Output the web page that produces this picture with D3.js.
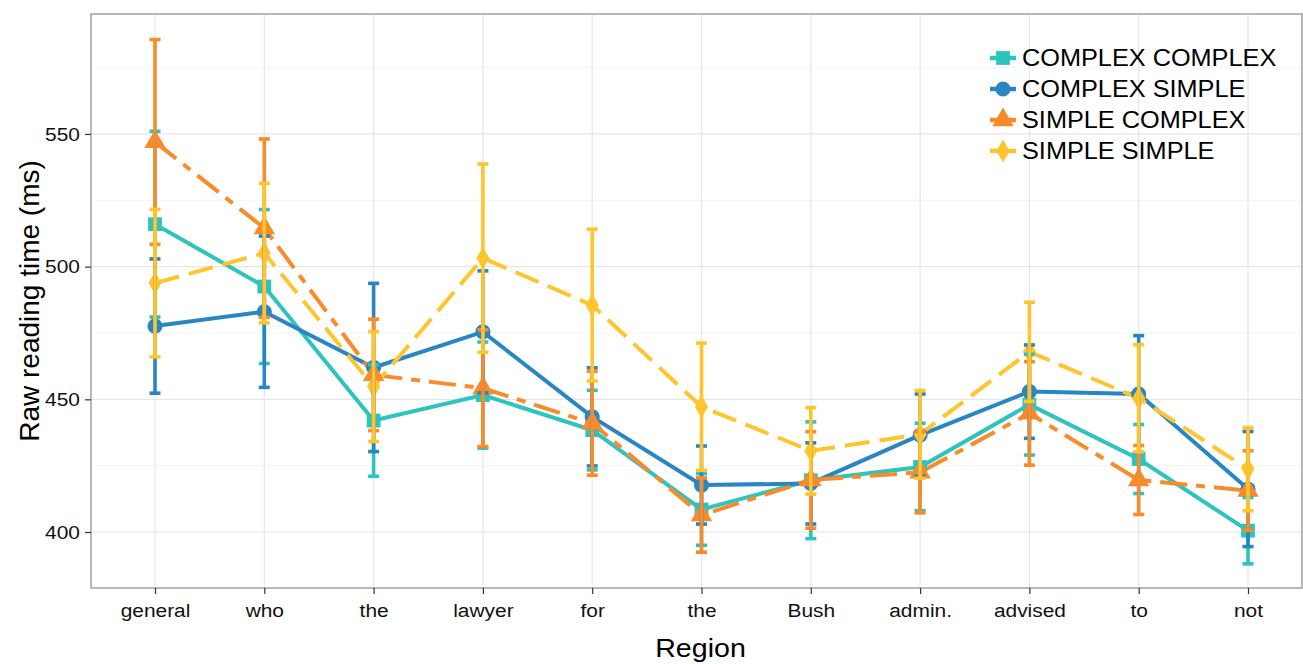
<!DOCTYPE html>
<html><head><meta charset="utf-8">
<script src="https://cdn.jsdelivr.net/npm/d3@7"></script>
<style>body{margin:0;background:#fff}svg{display:block;font-family:"Liberation Sans",Arial,sans-serif}</style>
</head><body><svg id="c" width="1303" height="664"></svg>
<script>
const categories = ["general","who","the","lawyer","for","the","Bush","admin.","advised","to","not"];
const seriesNames = ["COMPLEX COMPLEX","COMPLEX SIMPLE","SIMPLE COMPLEX","SIMPLE SIMPLE"];
const ccMean = [516, 492.5, 442, 451.6, 438.4, 408.5, 419.5, 424.5, 448, 427.5, 400.5];
const ccErr  = [35, 29, 21, 20, 15, 13.5, 22, 16.5, 19, 13, 12.5];
const csMean = [477.6, 483, 462, 475.4, 443.4, 417.7, 418.3, 436.5, 452.9, 452, 416.2];
const csErr  = [25.3, 28.5, 31.7, 23, 18.5, 14.7, 15.3, 15.5, 17.6, 22, 21.7];
const scMean = [547, 514.5, 459.2, 454.2, 441, 406.4, 419.6, 422.5, 444.7, 419.6, 415.6];
const scErr  = [38.6, 33.6, 21, 22, 19.6, 14, 18.2, 15.3, 19.5, 13, 15];
const ssMean = [493.8, 505.1, 454.8, 503.2, 485.5, 447.2, 430.6, 436.8, 467.9, 450.4, 423.7];
const ssErr  = [27.8, 26.3, 20.7, 35.5, 28.6, 24, 16.3, 16.5, 18.7, 20.2, 15.7];
const yTicks = [400, 450, 500, 550];
const yMinor = [425, 475, 525, 575];

const styles = [
  {color:"#2EC4BE", dash:null, shape:d3.symbolSquare, size:190},
  {color:"#2A86C3", dash:null, shape:d3.symbolCircle, size:180},
  {color:"#FA8A2A", dash:"27,9,9,9", shape:d3.symbolTriangle, size:200},
  {color:"#FEC52E", dash:"25,10", shape:d3.symbolDiamond, size:150}
];
const means=[ccMean,csMean,scMean,ssMean], errs=[ccErr,csErr,scErr,ssErr];
const series = seriesNames.map((n,i)=>({name:n, st:styles[i], pts:categories.map((c,j)=>({j, m:means[i][j], e:errs[i][j]}))}));

const SX=1.1;
const svg=d3.select("#c");
const L=91,R=1302,T=14,B=588;
const x=d3.scalePoint().domain(d3.range(categories.length)).range([155,1248]);
const y=d3.scaleLinear().domain([378.9,595.2]).range([B,T]);

// grid
const g=svg.append("g");
g.selectAll(".mn").data(yMinor).join("line").attr("x1",L).attr("x2",R).attr("y1",d=>y(d)).attr("y2",d=>y(d)).attr("stroke","#F4F4F4").attr("stroke-width",1);
g.selectAll(".mj").data(yTicks).join("line").attr("x1",L).attr("x2",R).attr("y1",d=>y(d)).attr("y2",d=>y(d)).attr("stroke","#E6E6E6").attr("stroke-width",1.2);
g.selectAll(".vx").data(d3.range(categories.length)).join("line").attr("x1",d=>x(d)).attr("x2",d=>x(d)).attr("y1",T).attr("y2",B).attr("stroke","#E6E6E6").attr("stroke-width",1.2);

// lines
const line=d3.line().x(d=>x(d.j)).y(d=>y(d.m));
series.forEach(s=>{
  svg.append("path").datum(s.pts).attr("d",line).attr("fill","none").attr("stroke",s.st.color).attr("stroke-width",4).attr("stroke-dasharray",s.st.dash);
});
// points
series.forEach(s=>{
  svg.append("g").selectAll("path").data(s.pts).join("path")
    .attr("transform",d=>`translate(${x(d.j)},${y(d.m)})`)
    .attr("d",d3.symbol(s.st.shape,s.st.size)).attr("fill",s.st.color);
});
// error bars
series.forEach(s=>{
  const eg=svg.append("g").attr("stroke",s.st.color);
  eg.selectAll(".v").data(s.pts).join("line").attr("x1",d=>x(d.j)).attr("x2",d=>x(d.j)).attr("y1",d=>y(d.m+d.e)).attr("y2",d=>y(d.m-d.e)).attr("stroke-width",3.6);
  eg.selectAll(".t").data(s.pts).join("line").attr("x1",d=>x(d.j)-5.5).attr("x2",d=>x(d.j)+5.5).attr("y1",d=>y(d.m+d.e)).attr("y2",d=>y(d.m+d.e)).attr("stroke-width",3.6);
  eg.selectAll(".b").data(s.pts).join("line").attr("x1",d=>x(d.j)-5.5).attr("x2",d=>x(d.j)+5.5).attr("y1",d=>y(d.m-d.e)).attr("y2",d=>y(d.m-d.e)).attr("stroke-width",3.6);
});

// border
svg.append("rect").attr("x",L).attr("y",T).attr("width",R-L).attr("height",B-T).attr("fill","none").attr("stroke","#8A8A8A").attr("stroke-width",1.2);

// axes
const ya=svg.append("g").attr("transform",`translate(${L},0)`).call(d3.axisLeft(y).tickValues(yTicks).tickSize(6).tickPadding(0));
ya.select(".domain").remove();
ya.selectAll("line").attr("stroke","#333").attr("stroke-width",1.2);
ya.selectAll("text").attr("x",0).attr("transform",`translate(-11,0) scale(${SX},1)`).attr("font-size",19).attr("fill","#111").attr("font-family","Liberation Sans, Arial, sans-serif");
const xa=svg.append("g").attr("transform",`translate(0,${B})`).call(d3.axisBottom(x).tickFormat(i=>categories[i]).tickSize(6).tickPadding(10));
xa.select(".domain").remove();
xa.selectAll("line").attr("stroke","#333").attr("stroke-width",1.2);
xa.selectAll("text").attr("transform",`scale(${SX},1)`).attr("font-size",19).attr("fill","#111").attr("font-family","Liberation Sans, Arial, sans-serif");

svg.append("text").attr("transform",`translate(${(L+R)/2+4},657) scale(${SX},1)`).attr("text-anchor","middle").attr("font-size",26).attr("fill","#000").text("Region");
svg.append("text").attr("transform",`translate(39,${(T+B)/2}) rotate(-90)`).attr("text-anchor","middle").attr("font-size",28).attr("fill","#000").text("Raw reading time (ms)");

// legend
const lg=svg.append("g");
series.forEach((s,i)=>{
  const yy=58+i*31;
  lg.append("line").attr("x1",990).attr("x2",1016).attr("y1",yy).attr("y2",yy).attr("stroke",s.st.color).attr("stroke-width",4.5);
  lg.append("path").attr("transform",`translate(1003,${yy})`).attr("d",d3.symbol(s.st.shape,s.st.size)).attr("fill",s.st.color);
  lg.append("text").attr("transform",`translate(1022,${yy+8}) scale(${SX},1)`).attr("font-size",23).attr("fill","#000").text(s.name);
});
</script></body></html>
